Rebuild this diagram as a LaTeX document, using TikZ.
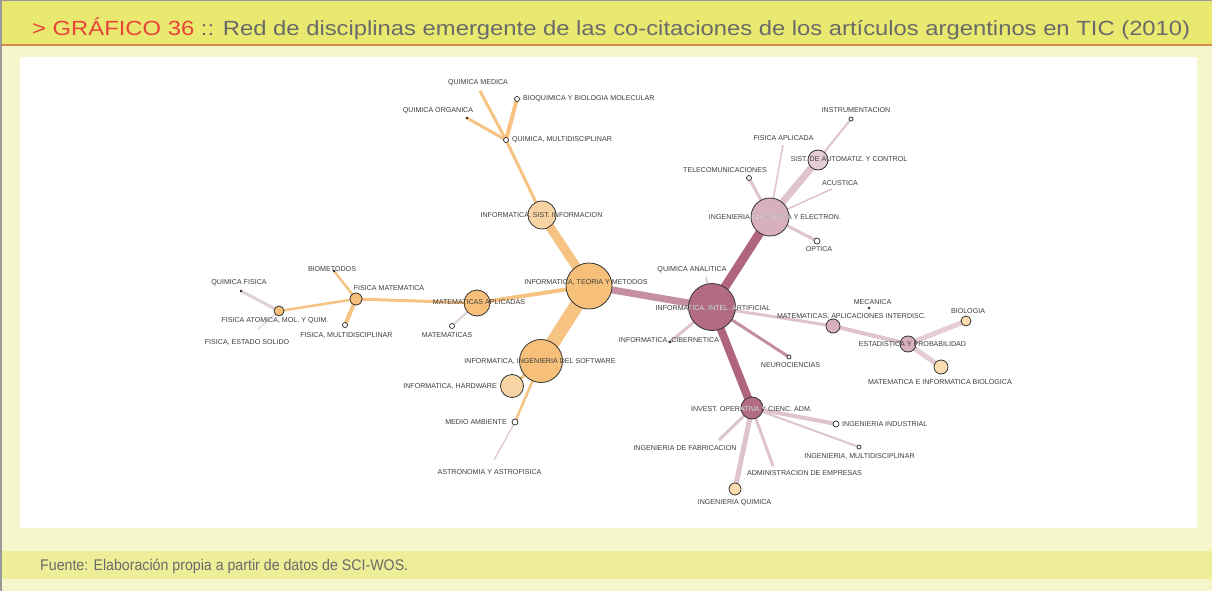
\documentclass[tikz,border=0pt]{standalone}
\usepackage{fontspec}
\usepackage{graphicx}
\setmainfont{Liberation Sans}
\newfontfamily\titlefont{Liberation Sans}
\usetikzlibrary{backgrounds}
\definecolor{hdryellow}{HTML}{E9E86F}
\definecolor{ftyellow}{HTML}{EEED98}
\definecolor{paleyellow}{HTML}{F6F6CC}
\definecolor{hdrline}{HTML}{D98A4A}
\definecolor{framegray}{HTML}{9A9A9A}
\definecolor{titlered}{HTML}{E8443A}
\definecolor{titlegray}{HTML}{6A6A6A}
\definecolor{lblgray}{HTML}{3C3C3C}
\definecolor{orhub}{HTML}{F6BF7A}
\definecolor{orlight}{HTML}{F8D4A4}
\definecolor{orpale}{HTML}{FADCB0}
\definecolor{orline}{HTML}{F6C383}
\definecolor{mvhub}{HTML}{B36B83}
\definecolor{mvmid}{HTML}{D7AFBD}
\definecolor{mvlight}{HTML}{E6CCD5}
\definecolor{mvline}{HTML}{B0657D}
\definecolor{mvedge}{HTML}{C58FA1}
\definecolor{mvpale}{HTML}{DFC4CE}
\definecolor{lavline}{HTML}{DDD0D8}

\begin{document}
\begin{tikzpicture}[
    x=1pt, y=-1pt,
    hub/.style={circle, draw=black!80, line width=0.8pt, inner sep=0pt},
    leaf/.style={circle, draw=black!85, fill=white, line width=0.7pt, inner sep=0pt, minimum size=5pt},
    dot/.style={circle, fill=black!85, inner sep=0pt, minimum size=2.6pt},
    lbl/.style={font=\fontsize{7.1}{8}\selectfont, text=lblgray, inner sep=0pt},
    orlink/.style={orline, line width=#1},
    mvlink/.style={mvline, line width=#1},
    pllink/.style={mvpale, line width=#1},
]
\useasboundingbox (0,0) rectangle (1212,591);

% Hubs
\node[hub, fill=orhub, minimum size=46pt] (teoria) at (589,286) {};
\node[hub, fill=orhub, minimum size=43pt] (ingsoft) at (541,361) {};
\node[hub, fill=orlight, minimum size=28pt] (sistinf) at (542,215) {};
\node[hub, fill=orhub, minimum size=26pt] (matapl) at (477,303) {};
\node[hub, fill=orhub, minimum size=12pt] (fismat) at (356,299) {};
\node[hub, fill=orhub, minimum size=10pt] (fisatom) at (279,311) {};
\node[hub, fill=orlight, minimum size=23pt] (hardware) at (512,386) {};
\node[hub, fill=mvhub, minimum size=47pt] (intart) at (712,307) {};
\node[hub, fill=mvmid, minimum size=38pt] (ingelec) at (770,217) {};
\node[hub, fill=mvlight, minimum size=20pt] (automat) at (818,160) {};
\node[hub, fill=mvmid, minimum size=14pt] (matinter) at (833,326) {};
\node[hub, fill=mvmid, minimum size=16pt] (estad) at (908,344) {};
\node[hub, fill=mvhub, minimum size=22pt] (investop) at (752,408) {};
\node[hub, fill=orpale, minimum size=10pt] (biologia) at (966,321) {};
\node[hub, fill=orpale, minimum size=14pt] (matbio) at (941,367) {};
\node[hub, fill=orpale, minimum size=12pt] (ingquim) at (735,489) {};

% Small leaves and dots
\node[leaf] (fismulti) at (345,325) {};
\node[leaf] (matematicas) at (452,326) {};
\node[leaf] (quimmulti) at (506,140) {};
\node[leaf] (bioq) at (517,99) {};
\node[leaf, minimum size=6pt] (medioamb) at (515,422) {};
\node[leaf, minimum size=4pt] (instrum) at (851,119) {};
\node[leaf] (telecom) at (749,178) {};
\node[leaf, minimum size=6pt] (optica) at (817,241) {};
\node[leaf, minimum size=4pt] (neuro) at (789,357) {};
\node[leaf, minimum size=6pt] (ingind) at (836,424) {};
\node[leaf, minimum size=4pt] (ingmulti) at (859,447) {};
\node[dot] (quimorg) at (467,118) {};
\node[dot] (cibern) at (670,342) {};
\node[dot] (quimfis) at (241,291) {};
\node[dot] (biometodos) at (334,271) {};
\node[dot] (mecanica) at (869,308) {};

% Loose line ends
\coordinate (quimmed) at (480,91);
\coordinate (fisapl) at (783,145);
\coordinate (acustica) at (832,189);
\coordinate (fisesol) at (258,329);
\coordinate (astro) at (494,460);
\coordinate (quimanal) at (706,277);
\coordinate (ingfab) at (719,440);
\coordinate (admin) at (773,466);

% Labels
\node[lbl] (t-teoria) at (586,282) {INFORMATICA, TEORIA Y METODOS};
\node[lbl] (t-ingsoft) at (540,361) {INFORMATICA, INGENIERIA DEL SOFTWARE};
\node[lbl] (t-sistinf) at (541.5,215) {INFORMATICA, SIST. INFORMACION};
\node[lbl] (t-matapl) at (479,302) {MATEMATICAS APLICADAS};
\node[lbl] (t-fismat) at (389,288) {FISICA MATEMATICA};
\node[lbl] (t-fisatom) at (275,321) {FISICA ATOMICA, MOL. Y QUIM.};
\node[lbl] (t-biometodos) at (332,269) {BIOMETODOS};
\node[lbl] (t-fismulti) at (346.5,335) {FISICA, MULTIDISCIPLINAR};
\node[lbl] (t-quimfis) at (239,283) {QUIMICA FISICA};
\node[lbl] (t-fisesol) at (247,342) {FISICA, ESTADO SOLIDO};
\node[lbl] (t-matematicas) at (447,335) {MATEMATICAS};
\node[lbl, anchor=west] (t-quimmulti) at (512,140) {QUIMICA, MULTIDISCIPLINAR};
\node[lbl, anchor=west] (t-bioq) at (523,99) {BIOQUIMICA Y BIOLOGIA MOLECULAR};
\node[lbl] (t-quimorg) at (438,111) {QUIMICA ORGANICA};
\node[lbl] (t-quimmed) at (478,83) {QUIMICA MEDICA};
\node[lbl, anchor=east] (t-hardware) at (497,386) {INFORMATICA, HARDWARE};
\node[lbl, anchor=east] (t-medioamb) at (507,422) {MEDIO AMBIENTE};
\node[lbl] (t-astro) at (489.5,472) {ASTRONOMIA Y ASTROFISICA};
\node[lbl] (t-intart) at (713,308) {INFORMATICA, INTEL. ARTIFICIAL};
\node[lbl] (t-ingelec) at (775,217) {INGENIERIA ELECTRICA Y ELECTRON.};
\node[lbl] (t-automat) at (849,159) {SIST. DE AUTOMATIZ. Y CONTROL};
\node[lbl] (t-instrum) at (856,110) {INSTRUMENTACION};
\node[lbl] (t-fisapl) at (783.5,138) {FISICA APLICADA};
\node[lbl] (t-telecom) at (725,170) {TELECOMUNICACIONES};
\node[lbl] (t-acustica) at (840,183) {ACUSTICA};
\node[lbl] (t-optica) at (819,249) {OPTICA};
\node[lbl] (t-quimanal) at (692,270) {QUIMICA ANALITICA};
\node[lbl] (t-cibern) at (669,340) {INFORMATICA, CIBERNETICA};
\node[lbl] (t-neuro) at (790.5,365) {NEUROCIENCIAS};
\node[lbl] (t-matinter) at (851.5,316) {MATEMATICAS, APLICACIONES INTERDISC.};
\node[lbl] (t-mecanica) at (872.5,302) {MECANICA};
\node[lbl] (t-estad) at (912.5,344) {ESTADISTICA Y PROBABILIDAD};
\node[lbl] (t-biologia) at (968,311) {BIOLOGIA};
\node[lbl] (t-matbio) at (940,382) {MATEMATICA E INFORMATICA BIOLOGICA};
\node[lbl] (t-investop) at (751.5,409) {INVEST. OPERATIVA Y CIENC. ADM.};
\node[lbl, anchor=west] (t-ingind) at (842,424) {INGENIERIA INDUSTRIAL};
\node[lbl] (t-ingmulti) at (859.5,456) {INGENIERIA, MULTIDISCIPLINAR};
\node[lbl] (t-ingfab) at (685,448) {INGENIERIA DE FABRICACION};
\node[lbl] (t-admin) at (804.5,473) {ADMINISTRACION DE EMPRESAS};
\node[lbl] (t-ingquim) at (734.5,503) {INGENIERIA QUIMICA};

% Light text where labels cross the dark hubs
\begin{scope}
  \clip (intart.center) circle (23.5pt);
  \node[lbl, text=white] (w-intart) at (t-intart) {INFORMATICA, INTEL. ARTIFICIAL};
\end{scope}
\begin{scope}
  \clip (ingelec.center) circle (19pt);
  \node[lbl, text=white] (w-ingelec) at (t-ingelec) {INGENIERIA ELECTRICA Y ELECTRON.};
\end{scope}
\begin{scope}
  \clip (investop.center) circle (11pt);
  \node[lbl, text=white] (w-investop) at (t-investop) {INVEST. OPERATIVA Y CIENC. ADM.};
\end{scope}

% Title and source
\node[anchor=base west, inner sep=0pt] (title) at (32,36) {\resizebox{1158pt}{\height}{\titlefont\fontsize{20.5}{24}\selectfont
  \textcolor{titlered}{> GRÁFICO 36}\textcolor{titlegray}{\ :: Red de disciplinas emergente de las co-citaciones de los artículos argentinos en TIC (2010)}}};
\node[anchor=base west, inner sep=0pt, text=titlegray] (fuente) at (40,570) {\resizebox{368pt}{\height}{\titlefont\fontsize{15.4}{18}\selectfont
  Fuente: Elaboración propia a partir de datos de SCI-WOS.}};

\begin{scope}[on background layer]
  % Frame
  \fill[paleyellow] (0,0) rectangle (1212,591);
  \fill[hdryellow] (0,0) rectangle (1212,44);
  \fill[framegray] (0,0) rectangle (1212,1.5);
  \fill[hdrline] (0,44) rectangle (1212,46.5);
  \fill[ftyellow] (0,551) rectangle (1212,579);
  \fill[framegray] (0,0) rectangle (1.8,591);
  \fill[white] (20,57) rectangle (1197,528);

  % Orange side
  \draw[orlink=14] (teoria.center) -- (ingsoft.center);
  \draw[orlink=9] (teoria.center) -- (sistinf.center);
  \draw[orlink=4] (teoria.center) -- (matapl.center);
  \draw[orlink=3] (sistinf.center) -- (quimmulti.center);
  \draw[orlink=4] (quimmulti.center) -- (bioq.center);
  \draw[orlink=3] (quimmulti.center) -- (quimorg.center);
  \draw[orlink=3] (quimmulti.center) -- (quimmed);
  \draw[orlink=3] (matapl.center) -- (fismat.center);
  \draw[lavline, line width=2] (matapl.center) -- (matematicas.center);
  \draw[orlink=2.5] (fismat.center) -- (biometodos.center);
  \draw[orlink=4] (fismat.center) -- (fismulti.center);
  \draw[orlink=2.5] (fismat.center) -- (fisatom.center);
  \draw[lavline, line width=3] (fisatom.center) -- (quimfis.center);
  \draw[lavline, line width=1] (fisatom.center) -- (fisesol);
  \draw[orlink=3] (ingsoft.center) -- (hardware.center);
  \draw[orlink=2.5] (ingsoft.center) -- (medioamb.center);
  \draw[mvpale, line width=1.2] (medioamb.center) -- (astro);

  % Mauve side
  \draw[mvedge, line width=7] (teoria.center) -- (intart.center);
  \draw[mvlink=9] (intart.center) -- (ingelec.center);
  \draw[mvlink=8] (intart.center) -- (investop.center);
  \draw[pllink=7] (ingelec.center) -- (automat.center);
  \draw[pllink=2] (automat.center) -- (instrum.center);
  \draw[pllink=1.5] (ingelec.center) -- (fisapl);
  \draw[pllink=3] (ingelec.center) -- (telecom.center);
  \draw[pllink=1.5] (ingelec.center) -- (acustica);
  \draw[pllink=3] (ingelec.center) -- (optica.center);
  \draw[pllink=1.5] (intart.center) -- (quimanal);
  \draw[pllink=3] (intart.center) -- (cibern.center);
  \draw[mvedge, line width=3] (intart.center) -- (neuro.center);
  \draw[pllink=3] (intart.center) -- (matinter.center);
  \draw[pllink=4] (matinter.center) -- (estad.center);
  \draw[mvlight, line width=5] (estad.center) -- (biologia.center);
  \draw[mvlight, line width=5] (estad.center) -- (matbio.center);
  \draw[pllink=4] (investop.center) -- (ingind.center);
  \draw[pllink=2] (investop.center) -- (ingmulti.center);
  \draw[pllink=3] (investop.center) -- (ingfab);
  \draw[pllink=3] (investop.center) -- (admin);
  \draw[pllink=5] (investop.center) -- (ingquim.center);
\end{scope}
\end{tikzpicture}
\end{document}
